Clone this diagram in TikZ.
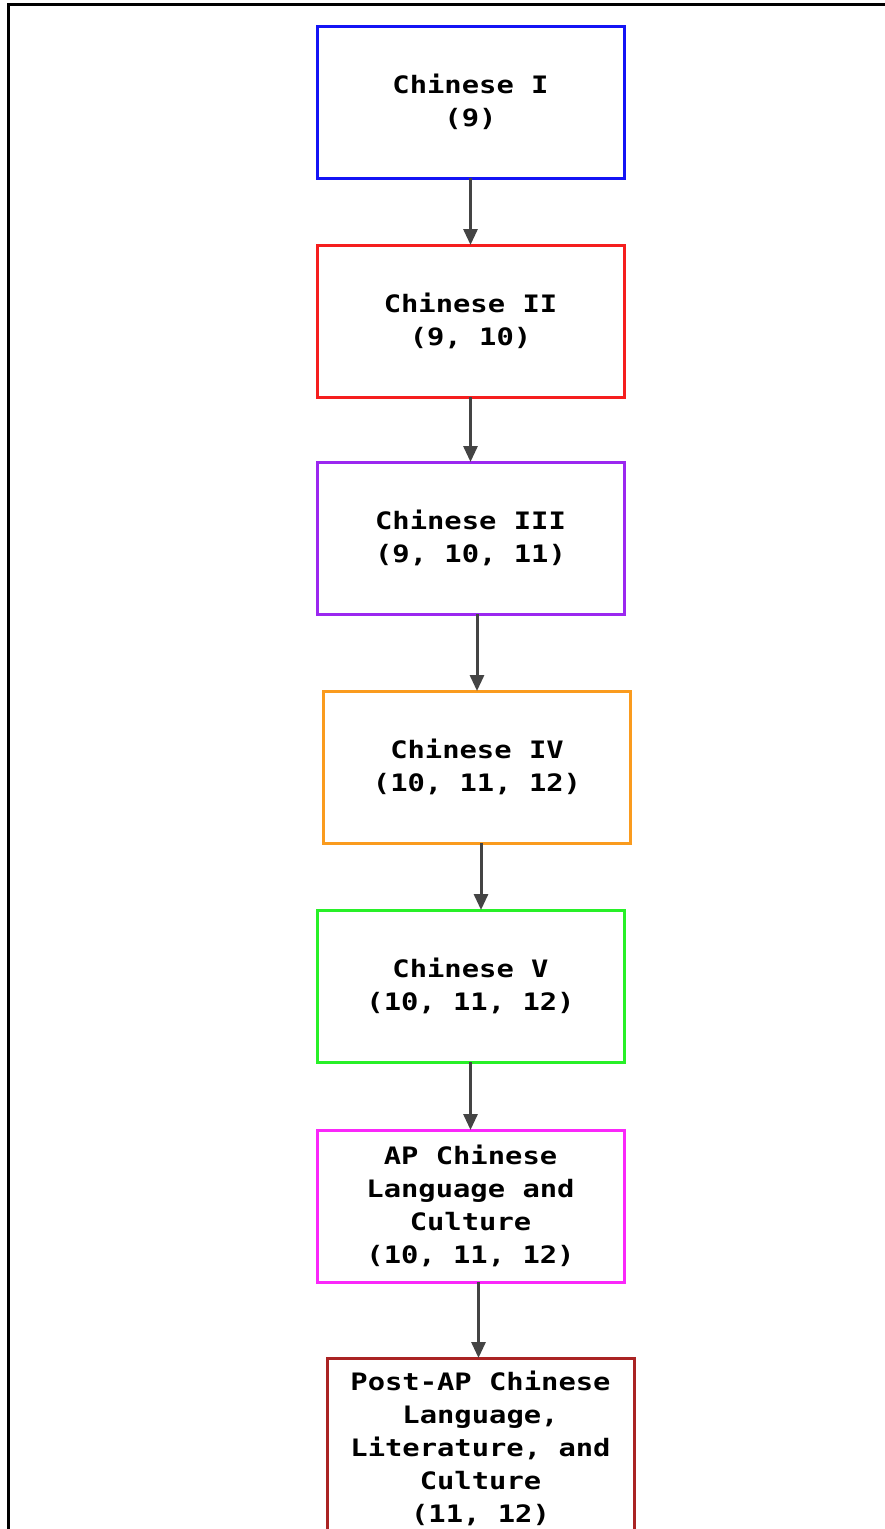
\documentclass[tikz,border=0pt]{standalone}
\usepackage{fontspec}
\usepackage{xcolor}
\usepackage{tikz}
\usetikzlibrary{positioning, arrows.meta}
\newfontfamily\boxfont[FakeStretch=1.2]{DejaVu Sans Mono}
\definecolor{levelone}{RGB}{20, 20, 245}
\definecolor{leveltwo}{RGB}{245, 30, 30}
\definecolor{levelthree}{RGB}{155, 40, 240}
\definecolor{levelfour}{RGB}{250, 155, 30}
\definecolor{levelfive}{RGB}{40, 240, 40}
\definecolor{levelsix}{RGB}{250, 40, 250}
\definecolor{levelseven}{RGB}{170, 35, 35}
\definecolor{arrowgray}{RGB}{68, 68, 68}

\begin{document}
\begin{tikzpicture}[
    x=1pt, y=1pt,
    course/.style={rectangle, draw, line width=3pt, outer sep=0pt, fill=white, minimum width=307pt, minimum height=152pt, align=center, inner sep=4pt, font=\boxfont\bfseries\fontsize{24}{33}\selectfont},
    arrow/.style={-{Triangle[width=14pt, length=16pt]}, line width=3pt, arrowgray}
]
    \useasboundingbox (0,0) rectangle (885,-1529);
    % Frame
    \draw[line width=3pt] (8,-1529) -- (8,-4) -- (885,-4);

    % Courses
    \node[course, draw=levelone] (chi1) at (470.5,-102) {Chinese I\\(9)};
    \node[course, draw=leveltwo, below=67pt of chi1] (chi2) {Chinese II\\(9, 10)};
    \node[course, draw=levelthree, below=65pt of chi2] (chi3) {Chinese III\\(9, 10, 11)};
    \node[course, draw=levelfour, below=77pt of chi3, xshift=6.5pt] (chi4) {Chinese IV\\(10, 11, 12)};
    \node[course, draw=levelfive, below=67pt of chi4, xshift=-6.5pt] (chi5) {Chinese V\\(10, 11, 12)};
    \node[course, draw=levelsix, below=68pt of chi5] (apchi) {AP Chinese\\Language and\\Culture\\(10, 11, 12)};
    \node[course, draw=levelseven, minimum height=180pt, below=76pt of apchi, xshift=10pt] (postap) {Post-AP Chinese\\Language,\\Literature, and\\Culture\\(11, 12)};

    % Arrows
    \draw[arrow] (chi1) -- (chi2);
    \draw[arrow] (chi2) -- (chi3);
    \draw[arrow] (chi4.north |- chi3.south) -- (chi4.north);
    \draw[arrow] ([xshift=4pt]chi4.south) -- ([xshift=4pt]chi4.south |- chi5.north);
    \draw[arrow] (chi5) -- (apchi);
    \draw[arrow] ([xshift=8pt]apchi.south) -- ([xshift=8pt]apchi.south |- postap.north);
\end{tikzpicture}
\end{document}
